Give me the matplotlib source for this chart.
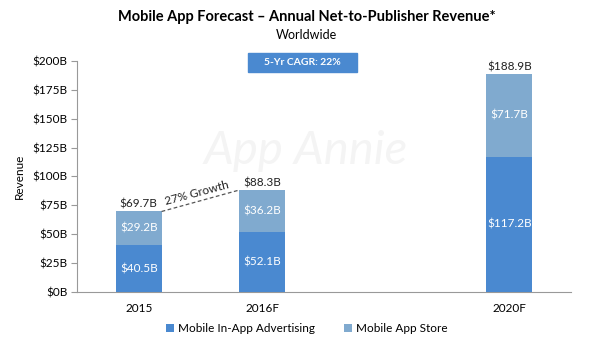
import matplotlib
matplotlib.use("Agg")
import matplotlib.pyplot as plt
from matplotlib.patches import Rectangle

plt.rcParams['font.family'] = ['Lato', 'DejaVu Sans']

categories = ["2015", "2016F", "2020F"]
x_pos = [0, 1, 3]
advertising = [40.5, 52.1, 117.2]
app_store = [29.2, 36.2, 71.7]
totals = [69.7, 88.3, 188.9]
y_ticks = [0, 25, 50, 75, 100, 125, 150, 175, 200]
y_labels = ["$0B", "$25B", "$50B", "$75B", "$100B", "$125B", "$150B", "$175B", "$200B"]

c_dark = "#4a89d0"
c_light = "#80aacf"

fig = plt.figure(figsize=(6.13, 3.63), dpi=100)
ax = fig.add_axes([0.1256, 0.1956, 0.8059, 0.6364])

w = 0.37
ax.bar(x_pos, advertising, width=w, color=c_dark, label="Mobile In-App Advertising", zorder=3)
ax.bar(x_pos, app_store, width=w, bottom=advertising, color=c_light, label="Mobile App Store", zorder=3)

for xi, a, s, t in zip(x_pos, advertising, app_store, totals):
    ax.text(xi, a / 2, f"${a}B", ha="center", va="center", color="white", fontsize=8.5, zorder=4)
    ax.text(xi, a + s / 2, f"${s}B", ha="center", va="center", color="white", fontsize=8.5, zorder=4)
    ax.text(xi, t + 1.5, f"${t}B", ha="center", va="bottom", color="#222222", fontsize=8.5, zorder=4)

# growth line
ax.plot([x_pos[0] + w / 2, x_pos[1] - w / 2], [totals[0], totals[1]], ls=(0, (3, 2)), color="#555555", lw=0.9, zorder=4)
ax.text((x_pos[0] + x_pos[1]) / 2 - 0.02, (totals[0] + totals[1]) / 2 + 2, "27% Growth", rotation=15,
        ha="center", va="bottom", fontsize=8.5, color="#222222", rotation_mode="anchor")

# CAGR box
ax.add_patch(Rectangle((0.886, 190.5), 0.878, 16.5, color="#4a89d0", clip_on=False, zorder=5))
ax.text(1.325, 198.7, "5-Yr CAGR: 22%", ha="center", va="center", color="white", fontsize=7.5,
        fontweight="bold", zorder=6)

# watermark
ax.text(1.35, 122, "App Annie", ha="center", va="center", fontsize=34, style="italic",
        color="#f4f4f4", zorder=1)

ax.set_xlim(-0.5, 3.5)
ax.set_ylim(0, 200)
ax.set_xticks(x_pos)
ax.set_xticklabels(categories, fontsize=8.5)
ax.set_yticks(y_ticks)
ax.set_yticklabels(y_labels, fontsize=8.5)
ax.tick_params(axis="x", length=0, pad=8)
ax.tick_params(axis="y", length=4, color="#999999", pad=3)
for s in ["top", "right"]:
    ax.spines[s].set_visible(False)
for s in ["left", "bottom"]:
    ax.spines[s].set_color("#999999")
ax.set_ylabel("Revenue", fontsize=8.5, labelpad=5)

fig.text(0.5, 0.953, "Mobile App Forecast \u2013 Annual Net-to-Publisher Revenue*", ha="center", va="center",
         fontsize=10.5, fontweight="bold")
fig.text(0.5, 0.903, "Worldwide", ha="center", va="center", fontsize=9)

ax.legend(loc="center", bbox_to_anchor=(0.465, -0.158), ncol=2, frameon=False, fontsize=8.5,
          handlelength=0.7, handleheight=0.7, handletextpad=0.3, columnspacing=2.5)

fig.savefig("out.png", dpi=100)
